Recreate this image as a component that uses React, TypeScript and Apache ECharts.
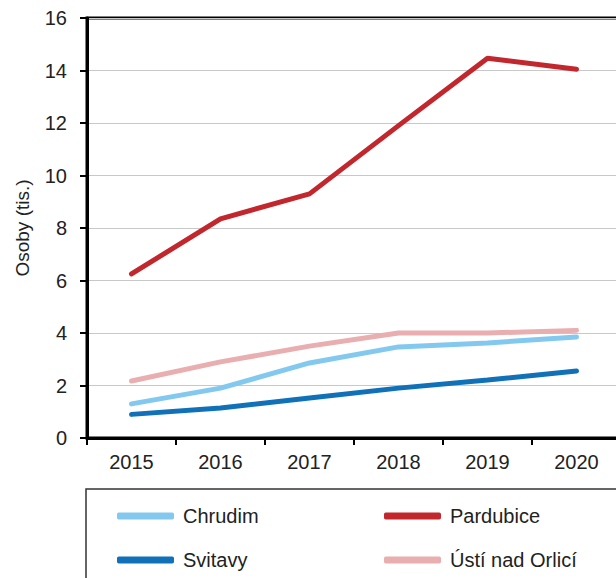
import React, { useEffect, useRef } from "react";
import * as echarts from "echarts";

const years = ["2015", "2016", "2017", "2018", "2019", "2020"];
const chrudim = [1.3, 1.9, 2.86, 3.47, 3.62, 3.85];
const pardubice = [6.25, 8.35, 9.3, 11.9, 14.47, 14.05];
const svitavy = [0.9, 1.14, 1.52, 1.9, 2.21, 2.55];
const usti = [2.17, 2.9, 3.5, 4.0, 4.0, 4.1];

const colors = {
  Chrudim: "#83c9ef",
  Pardubice: "#c1272d",
  Svitavy: "#1071b8",
  "Ústí nad Orlicí": "#e9aeb0",
};

export default function App() {
  const ref = useRef<HTMLDivElement>(null);
  useEffect(() => {
    if (!ref.current) return;
    const chart = echarts.init(ref.current, undefined, { renderer: "svg" });
    const font = "Liberation Sans, Arial, sans-serif";
    const mk = (name: string, data: number[], z: number) => ({
      name,
      type: "line",
      data,
      symbol: "none",
      z,
      lineStyle: { width: 5, color: (colors as any)[name], cap: "round" },
      itemStyle: { color: (colors as any)[name] },
    });
    const legendBase = {
      orient: "vertical",
      top: 506,
      padding: 0,
      height: 70,
      icon: "roundRect",
      itemWidth: 57,
      itemHeight: 7,
      itemGap: 24,
      textStyle: { color: "#222", fontSize: 20, fontFamily: font, padding: [0, 0, 0, 4] },
    };
    chart.setOption({
      animation: false,
      grid: {
        left: 87,
        top: 18,
        width: 534,
        height: 420,
        outerBoundsMode: "none",
        containLabel: false,
        show: true,
        borderColor: "#000",
        borderWidth: 3,
        backgroundColor: "transparent",
      },
      xAxis: {
        type: "category",
        data: years,
        boundaryGap: true,
        axisLine: { lineStyle: { color: "#000", width: 3 } },
        axisTick: { show: true, length: 7, lineStyle: { color: "#000", width: 2 } },
        axisLabel: { color: "#222", fontSize: 20, fontFamily: font, margin: 14 },
      },
      yAxis: {
        type: "value",
        min: 0,
        max: 16,
        interval: 2,
        name: "Osoby (tis.)",
        nameLocation: "middle",
        nameGap: 55,
        nameTextStyle: { color: "#222", fontSize: 19, fontFamily: font },
        axisLine: { show: true, lineStyle: { color: "#000", width: 3 } },
        axisTick: { show: true, length: 7, lineStyle: { color: "#000", width: 2 } },
        axisLabel: { color: "#222", fontSize: 20, fontFamily: font, margin: 20 },
        splitLine: { lineStyle: { color: "#c8c8c8", width: 1 } },
      },
      legend: [
        { ...legendBase, data: ["Chrudim", "Svitavy"], left: 117 },
        { ...legendBase, data: ["Pardubice", "Ústí nad Orlicí"], left: 384 },
      ],
      graphic: [
        {
          type: "rect",
          shape: { x: 86, y: 489, width: 560, height: 120 },
          style: { fill: "none", stroke: "#333", lineWidth: 1.5 },
        },
      ],
      series: [
        mk("Svitavy", svitavy, 2),
        mk("Chrudim", chrudim, 3),
        mk("Ústí nad Orlicí", usti, 4),
        mk("Pardubice", pardubice, 5),
      ],
    });
    return () => chart.dispose();
  }, []);
  return (
    <div
      ref={ref}
      style={{ position: "fixed", left: 0, top: 0, width: 616, height: 578, background: "#fff" }}
    />
  );
}
